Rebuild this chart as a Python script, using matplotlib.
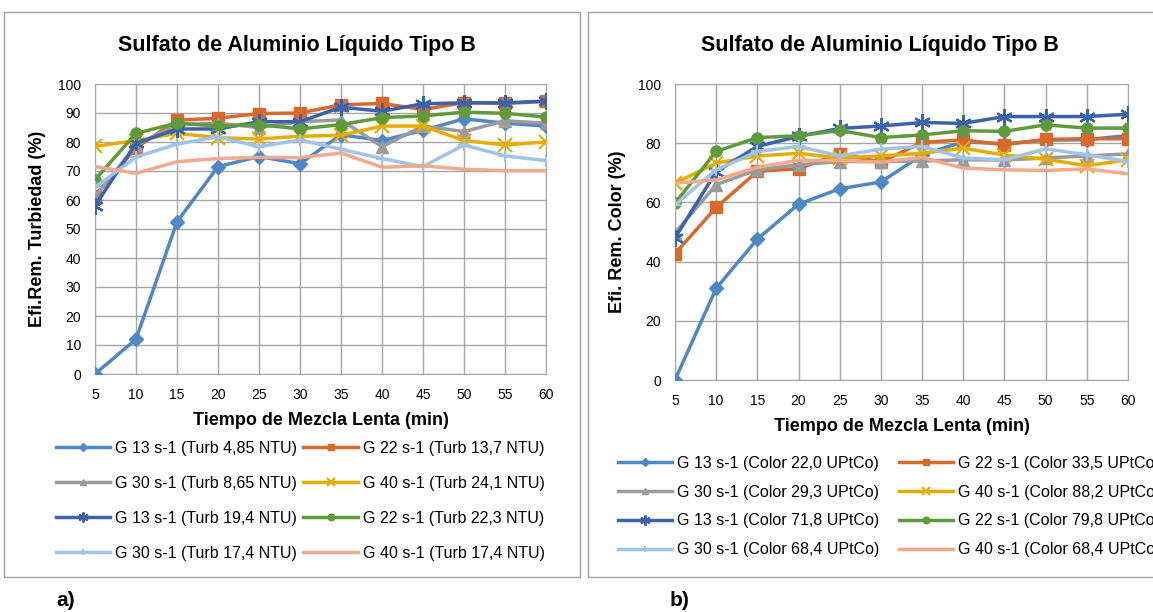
import matplotlib
matplotlib.use("Agg")
import matplotlib.pyplot as plt
from matplotlib.patches import Rectangle

plt.rcParams['font.family'] = ['Liberation Sans', 'DejaVu Sans']

tiempo = [5, 10, 15, 20, 25, 30, 35, 40, 45, 50, 55, 60]

# a) turbiedad
turb_labels = ["G 13 s-1 (Turb 4,85 NTU)", "G 22 s-1 (Turb 13,7 NTU)",
               "G 30 s-1 (Turb 8,65 NTU)", "G 40 s-1 (Turb 24,1 NTU)",
               "G 13 s-1 (Turb 19,4 NTU)", "G 22 s-1 (Turb 22,3 NTU)",
               "G 30 s-1 (Turb 17,4 NTU)", "G 40 s-1 (Turb 17,4 NTU)"]
turb_g13_485 = [0, 12, 52.5, 71.5, 75, 72.5, 82.5, 80.5, 84, 88, 86.5, 85.5]
turb_g22_137 = [61.5, 78, 87.5, 88.2, 89.8, 90, 92.8, 93.3, 91.2, 93.6, 93.3, 94]
turb_g30_865 = [61, 79, 86, 86.5, 85, 87, 87.6, 78.4, 85.5, 83.6, 87.3, 86.5]
turb_g40_241 = [78.5, 80.5, 83, 81.5, 81, 82, 82.3, 85.5, 85.5, 80.5, 79, 80]
turb_g13_194 = [58, 79.5, 84.5, 84.5, 87, 87, 92, 90.6, 93.2, 93.5, 93.5, 94.1]
turb_g22_223 = [67, 83, 86.5, 85.5, 86, 84.5, 86, 88.4, 89, 90.3, 89.9, 88.6]
turb_g30_174 = [64.4, 74.8, 79.3, 81.8, 78.4, 80.7, 77.5, 74.3, 71.5, 79, 75.2, 73.6]
turb_g40_174 = [71.5, 69.2, 73.2, 74.3, 74.7, 74.6, 76.2, 71.3, 71.8, 70.6, 70.1, 70.1]

# b) color
color_labels = ["G 13 s-1 (Color 22,0 UPtCo)", "G 22 s-1 (Color 33,5 UPtCo)",
                "G 30 s-1 (Color 29,3 UPtCo)", "G 40 s-1 (Color 88,2 UPtCo)",
                "G 13 s-1 (Color 71,8 UPtCo)", "G 22 s-1 (Color 79,8 UPtCo)",
                "G 30 s-1 (Color 68,4 UPtCo)", "G 40 s-1 (Color 68,4 UPtCo)"]
col_g13_220 = [0, 31, 47.6, 59.4, 64.6, 66.9, 76, 80.5, 79.8, 81, 81.2, 82.6]
col_g22_335 = [42.7, 58.3, 70.5, 71.4, 76.5, 73.6, 80.3, 81.1, 79.5, 81.3, 81.5, 81.5]
col_g30_293 = [49.7, 66, 71, 72.7, 73.8, 73.8, 74, 74.4, 74.3, 75, 75.7, 76.4]
col_g40_882 = [66.5, 73.3, 75.7, 76.6, 75, 75.7, 76.6, 78.3, 76, 74.6, 72.4, 74.4]
col_g13_718 = [48, 70.4, 78.9, 82.3, 85, 85.8, 87, 86.7, 89, 89, 89, 89.8]
col_g22_798 = [59.8, 77.2, 81.9, 82.5, 84.3, 81.9, 82.8, 84.2, 84, 86.2, 85.1, 85.1]
col_g30_684 = [59.2, 71, 77.2, 78.9, 75.7, 78, 78.9, 75, 74.4, 78.1, 76.1, 73.8]
col_g40_684 = [66.5, 67.6, 71.9, 74.2, 74.2, 73.6, 75.2, 71.6, 71, 70.8, 71.3, 69.7]

turb_series = [turb_g13_485, turb_g22_137, turb_g30_865, turb_g40_241,
               turb_g13_194, turb_g22_223, turb_g30_174, turb_g40_174]
color_series = [col_g13_220, col_g22_335, col_g30_293, col_g40_882,
                col_g13_718, col_g22_798, col_g30_684, col_g40_684]

colores = ['#4e88c6', '#d8692a', '#9b9b9b', '#e6ad00',
           '#3a62ad', '#5f9b3b', '#9fc4e8', '#f3a98b']
marcadores = ['D', 's', '^', 'x', (6, 2, 0), 'o', '+', None]
tam = [7, 8, 8, 10, 12, 8, 8, 0]

W, H = 1153, 612
fig = plt.figure(figsize=(W / 100, H / 100), dpi=100)

# marcos de cada grafico
fig.patches.append(Rectangle((4 / W, 1 - 577 / H), 576 / W, 565 / H, transform=fig.transFigure,
                             fill=False, edgecolor='#a0a0a0', lw=1))
fig.patches.append(Rectangle((588 / W, 1 - 577 / H), 600 / W, 565 / H, transform=fig.transFigure,
                             fill=False, edgecolor='#a0a0a0', lw=1))


def px_axes(x0, y0, x1, y1):
    return fig.add_axes([x0 / W, 1 - y1 / H, (x1 - x0) / W, (y1 - y0) / H])


def dibujar(ax, series, labels, ystep, ylab):
    handles = []
    for i, s in enumerate(series):
        mew = 1.6 if marcadores[i] in ('x', '+') or i == 4 else 1
        h, = ax.plot(tiempo, s, color=colores[i], lw=2.5, marker=marcadores[i],
                     markersize=tam[i], markeredgewidth=mew,
                     markeredgecolor=colores[i], label=labels[i], zorder=3 + i * 0.1)
        handles.append(h)
    ax.set_xlim(5, 60)
    ax.set_ylim(0, 100)
    ax.set_xticks(tiempo)
    ax.set_yticks(range(0, 101, ystep))
    ax.grid(True, color='#a6a6a6', lw=1)
    ax.set_axisbelow(True)
    for sp in ax.spines.values():
        sp.set_color('#a6a6a6')
    ax.tick_params(length=0, labelsize=10, pad=10)
    ax.set_ylabel(ylab, fontsize=13, fontweight='bold')
    ax.yaxis.set_label_coords(-0.108, 0.5)
    ax.set_xlabel("Tiempo de Mezcla Lenta (min)", fontsize=13, fontweight='bold')
    ax.xaxis.set_label_coords(0.5, -0.13)
    return handles


ax1 = px_axes(95, 84, 546, 374)
h1 = dibujar(ax1, turb_series, turb_labels, 10, "Efi.Rem. Turbiedad (%)")

ax2 = px_axes(675, 84, 1128, 380)
h2 = dibujar(ax2, color_series, color_labels, 20, "Efi. Rem. Color (%)")

fig.text(297 / W, 1 - 45 / H, "Sulfato de Aluminio Líquido Tipo B", ha='center', va='center',
         fontsize=15.5, fontweight='bold')
fig.text(880 / W, 1 - 45 / H, "Sulfato de Aluminio Líquido Tipo B", ha='center', va='center',
         fontsize=15.5, fontweight='bold')

orden = [0, 2, 4, 6, 1, 3, 5, 7]
fig.legend([h1[i] for i in orden], [turb_labels[i] for i in orden], ncol=2, frameon=False,
           loc='upper left', bbox_to_anchor=(56 / W, 1 - 441 / H), fontsize=11.5,
           markerscale=0.6, handlelength=3.4, handletextpad=0.3, columnspacing=0.4,
           labelspacing=1.25, borderaxespad=0, borderpad=0)
fig.legend([h2[i] for i in orden], [color_labels[i] for i in orden], ncol=2, frameon=False,
           loc='upper left', bbox_to_anchor=(618 / W, 1 - 456 / H), fontsize=11.5,
           markerscale=0.6, handlelength=3.4, handletextpad=0.3, columnspacing=1.2,
           labelspacing=0.86, borderaxespad=0, borderpad=0)

fig.text(56 / W, 1 - 601 / H, "a)", ha='left', va='center', fontsize=15, fontweight='bold')
fig.text(670 / W, 1 - 600 / H, "b)", ha='left', va='center', fontsize=15, fontweight='bold')

fig.savefig("out.png", dpi=100)
